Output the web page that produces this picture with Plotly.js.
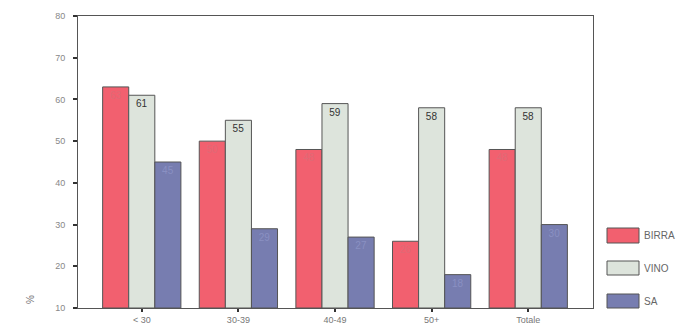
<!DOCTYPE html>
<html>
<head>
<meta charset="utf-8">
<script src="https://cdn.plot.ly/plotly-3.0.1.min.js"></script>
<style>
  html, body { margin: 0; padding: 0; background: #ffffff; }
  #chart { width: 680px; height: 327px; }
</style>
</head>
<body>
<div id="chart"></div>
<script>
// Age groups and shares (%) per drink type
const categories = ['< 30', '30-39', '40-49', '50+', 'Totale'];
const birra = [63, 50, 48, 26, 48];
const vino  = [61, 55, 59, 58, 58];
const sa    = [45, 29, 27, 18, 30];
const seriesNames = ['BIRRA', 'VINO', 'SA'];
const yTicks = [10, 20, 30, 40, 50, 60, 70, 80];

const fills = ['#f2606f', '#dde4dc', '#777db0'];
const textColors = ['#e06a76', '#333333', '#8a90c2'];
const values = [birra, vino, sa];
const xIdx = categories.map((_, i) => i);

const traces = values.map((vals, k) => ({
  type: 'bar',
  name: seriesNames[k],
  x: xIdx,
  y: vals.map(v => v - 10),
  base: 10,
  text: vals.map(String),
  textposition: 'inside',
  insidetextanchor: 'end',
  textangle: 0,
  constraintext: 'none',
  textfont: { family: 'Liberation Sans, Arial, sans-serif', size: 10, color: textColors[k] },
  marker: { color: fills[k], line: { color: '#555555', width: 1 } },
  hoverinfo: 'skip',
  showlegend: false
}));

// Legend keys drawn as wide rectangles on the right side
const legendY = [[228, 243], [261, 275], [294, 308]];
const shapes = legendY.map((yy, k) => ({
  type: 'rect', xref: 'paper', yref: 'paper',
  x0: (607 - 78) / 515, x1: (639 - 78) / 515,
  y0: (308 - yy[1]) / 292, y1: (308 - yy[0]) / 292,
  fillcolor: fills[k], line: { color: '#555555', width: 1 }
}));
const annotations = legendY.map((yy, k) => ({
  xref: 'paper', yref: 'paper',
  x: (642 - 78) / 515, y: (308 - (yy[0] + yy[1]) / 2) / 292,
  xanchor: 'left', yanchor: 'middle', showarrow: false,
  text: seriesNames[k],
  font: { family: 'Liberation Sans, Arial, sans-serif', size: 10, color: '#666666' }
}));
annotations.push({
  xref: 'paper', yref: 'paper', x: (30 - 78) / 515, y: (308 - 300) / 292,
  xanchor: 'center', yanchor: 'middle', showarrow: false, textangle: -90,
  text: '%', font: { family: 'Liberation Sans, Arial, sans-serif', size: 10, color: '#777777' }
});

const layout = {
  width: 680, height: 327,
  margin: { l: 78, r: 87, t: 16, b: 19 },
  paper_bgcolor: '#ffffff', plot_bgcolor: '#ffffff',
  barmode: 'group', bargap: 0.19, bargroupgap: 0,
  font: { family: 'Liberation Sans, Arial, sans-serif', size: 9, color: '#777777' },
  xaxis: {
    range: [-0.66, 4.67],
    tickvals: xIdx, ticktext: categories,
    ticks: 'outside', ticklen: 3, tickwidth: 2, tickcolor: '#333333',
    showline: true, linecolor: '#555555', linewidth: 1, mirror: true,
    showgrid: false, zeroline: false,
    tickfont: { size: 9, color: '#777777' }
  },
  yaxis: {
    range: [10, 80],
    tickvals: yTicks,
    ticks: 'outside', ticklen: 4, tickwidth: 2, tickcolor: '#333333',
    showline: true, linecolor: '#555555', linewidth: 1, mirror: true,
    showgrid: false, zeroline: false,
    tickfont: { size: 9, color: '#888888' },
    ticklabelstandoff: 6
  },
  shapes: shapes,
  annotations: annotations
};

Plotly.newPlot('chart', traces, layout, { staticPlot: true, displayModeBar: false });
</script>
</body>
</html>
